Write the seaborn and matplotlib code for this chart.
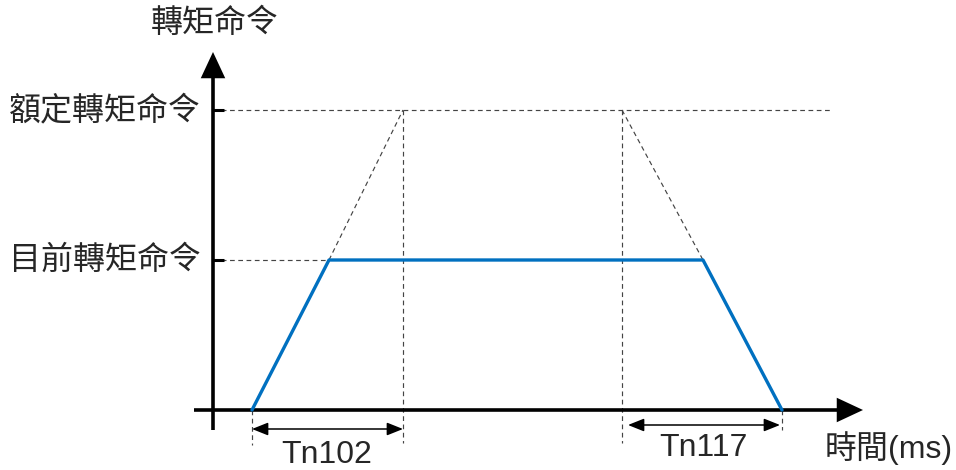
import matplotlib
matplotlib.use("Agg")
import matplotlib.pyplot as plt
import seaborn as sns
import pandas as pd

sns.set_style("white")
plt.rcParams['font.family'] = ['Noto Sans CJK TC', 'DejaVu Sans']

# ---- data (time in px-like units from origin, torque units) ----
time_pts = [39, 116, 490, 569]
torque_pts = [0, 150, 150, 0]
rated_torque = 300
current_torque = 150
tn102_span = [39, 190]    # start of ramp -> time to reach rated torque
tn117_span = [409, 569]   # start of decel from rated -> end
y_labels = ["額定轉矩命令", "目前轉矩命令"]
y_title = "轉矩命令"
x_title = "時間(ms)"
span_labels = ["Tn102", "Tn117"]

df = pd.DataFrame({"t": time_pts, "torque": torque_pts})

fig = plt.figure(figsize=(9.56, 4.70), dpi=100)
ax = fig.add_axes([0, 0, 1, 1])
ax.set_xlim(-213, 743)
ax.set_ylim(-60, 410)
ax.axis("off")

dash_kw = dict(color="#444444", lw=0.85, ls=(0, (4, 3)))

# dashed guide lines
ax.plot([0, 617], [rated_torque, rated_torque], **dash_kw)
ax.plot([0, time_pts[1]], [current_torque, current_torque], **dash_kw)
ax.plot([time_pts[1], tn102_span[1]], [current_torque, rated_torque], **dash_kw)
ax.plot([tn117_span[0], time_pts[2]], [rated_torque, current_torque], **dash_kw)
ax.plot([tn102_span[1], tn102_span[1]], [rated_torque, -33], **dash_kw)
ax.plot([tn117_span[0], tn117_span[0]], [rated_torque, -33], **dash_kw)
ax.plot([time_pts[0], time_pts[0]], [0, -35], **dash_kw)
ax.plot([time_pts[3], time_pts[3]], [0, -20], **dash_kw)

# axes with arrows
ax.plot([0, 0], [-20, 340], color="black", lw=2.6, solid_capstyle="butt")
ax.annotate("", xy=(0, 358), xytext=(0, 330),
            arrowprops=dict(arrowstyle="-|>,head_length=0.9,head_width=0.42",
                            color="black", lw=0, mutation_scale=21, shrinkA=0, shrinkB=0))
ax.plot([-19, 630], [0, 0], color="black", lw=2.6, solid_capstyle="butt")
ax.annotate("", xy=(650, 0), xytext=(620, 0),
            arrowprops=dict(arrowstyle="-|>,head_length=0.9,head_width=0.42",
                            color="black", lw=0, mutation_scale=21, shrinkA=0, shrinkB=0))
# ticks
for yv in [rated_torque, current_torque]:
    ax.plot([0, 11], [yv, yv], color="black", lw=2.2, solid_capstyle="butt")

# trapezoid
sns.lineplot(data=df, x="t", y="torque", ax=ax, color="#0070C0", lw=2.4,
             sort=False, estimator=None)
ax.axis("off")

# double arrows
for (a, b), yv in zip([tn102_span, [415, 567]], [-19, -15]):
    ax.annotate("", xy=(a, yv), xytext=(b, yv),
                arrowprops=dict(arrowstyle="<|-|>,head_length=0.75,head_width=0.3",
                                color="black", lw=1.1, mutation_scale=13,
                                shrinkA=0, shrinkB=0))

lat = ["Liberation Sans", "Noto Sans CJK TC"]
fs = 23
ax.text(114, -45, span_labels[0], ha="center", va="center", fontsize=fs, family=lat)
ax.text(490, -38, span_labels[1], ha="center", va="center", fontsize=fs, family=lat)
ax.text(2, 387, y_title, ha="center", va="center", fontsize=fs)
ax.text(-12, rated_torque, y_labels[0], ha="right", va="center", fontsize=fs)
ax.text(-12, current_torque, y_labels[1], ha="right", va="center", fontsize=fs)
ax.text(676, -38, x_title, ha="center", va="center", fontsize=fs, family=lat)

fig.savefig("out.png", dpi=100)
